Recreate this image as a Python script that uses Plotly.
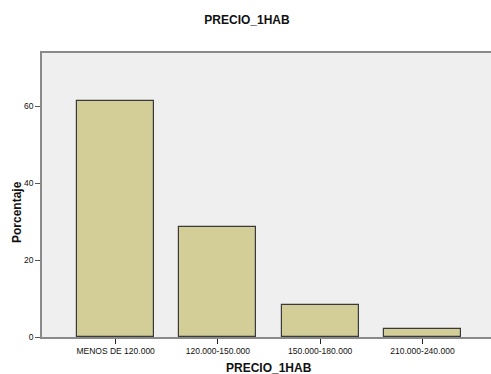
import plotly.graph_objects as go

# Frequency distribution of one-room prices
categories = ["MENOS DE 120.000", "120.000-150.000", "150.000-180.000", "210.000-240.000"]
percentages = [61.2, 28.6, 8.2, 2.0]
y_ticks = [0, 20, 40, 60]

FONT = "Liberation Sans, Arial, sans-serif"

fig = go.Figure(
    go.Bar(
        x=list(range(len(categories))),
        y=percentages,
        width=0.753,
        marker=dict(color="#D3CE98", line=dict(color="#3a3a3a", width=1.2)),
        hoverinfo="skip",
    )
)

fig.update_layout(
    width=491,
    height=374,
    margin=dict(l=42, r=0, t=53, b=37),
    paper_bgcolor="white",
    plot_bgcolor="#EFEFEF",
    showlegend=False,
    font=dict(family=FONT, color="#111"),
    title=dict(
        text="<b>PRECIO_1HAB</b>",
        x=247 / 491,
        xanchor="center",
        y=1 - 20 / 374,
        yanchor="middle",
        font=dict(size=12, family=FONT, color="#111"),
    ),
    bargap=0,
)

fig.update_xaxes(
    range=[-0.72, 3.67],
    tickmode="array",
    tickvals=list(range(len(categories))),
    ticktext=categories,
    ticks="outside",
    ticklen=5,
    tickwidth=1,
    tickcolor="#222",
    tickfont=dict(size=8.5, family=FONT, color="#111"),
    showline=True,
    linecolor="#8a8a8a",
    linewidth=1.5,
    mirror=True,
    showgrid=False,
    zeroline=False,
)

fig.update_yaxes(
    range=[0, 73.8],
    tickmode="array",
    tickvals=y_ticks,
    ticks="outside",
    ticklen=5,
    tickwidth=1,
    tickcolor="#555",
    tickfont=dict(size=8.5, family=FONT, color="#111"),
    showline=True,
    linecolor="#8a8a8a",
    linewidth=1.5,
    showgrid=False,
    zeroline=False,
)

# Axis titles, placed on the paper
fig.add_annotation(
    text="<b>PRECIO_1HAB</b>",
    xref="paper",
    yref="paper",
    x=(269 - 42) / 449,
    y=-(368 - 337) / 284,
    xanchor="center",
    yanchor="middle",
    showarrow=False,
    font=dict(size=12, family=FONT, color="#111"),
)
fig.add_annotation(
    text="<b>Porcentaje</b>",
    xref="paper",
    yref="paper",
    x=-(42 - 17) / 449,
    y=(337 - 212) / 284,
    xanchor="center",
    yanchor="middle",
    textangle=-90,
    showarrow=False,
    font=dict(size=12, family=FONT, color="#111"),
)

fig.write_html("out.html")
